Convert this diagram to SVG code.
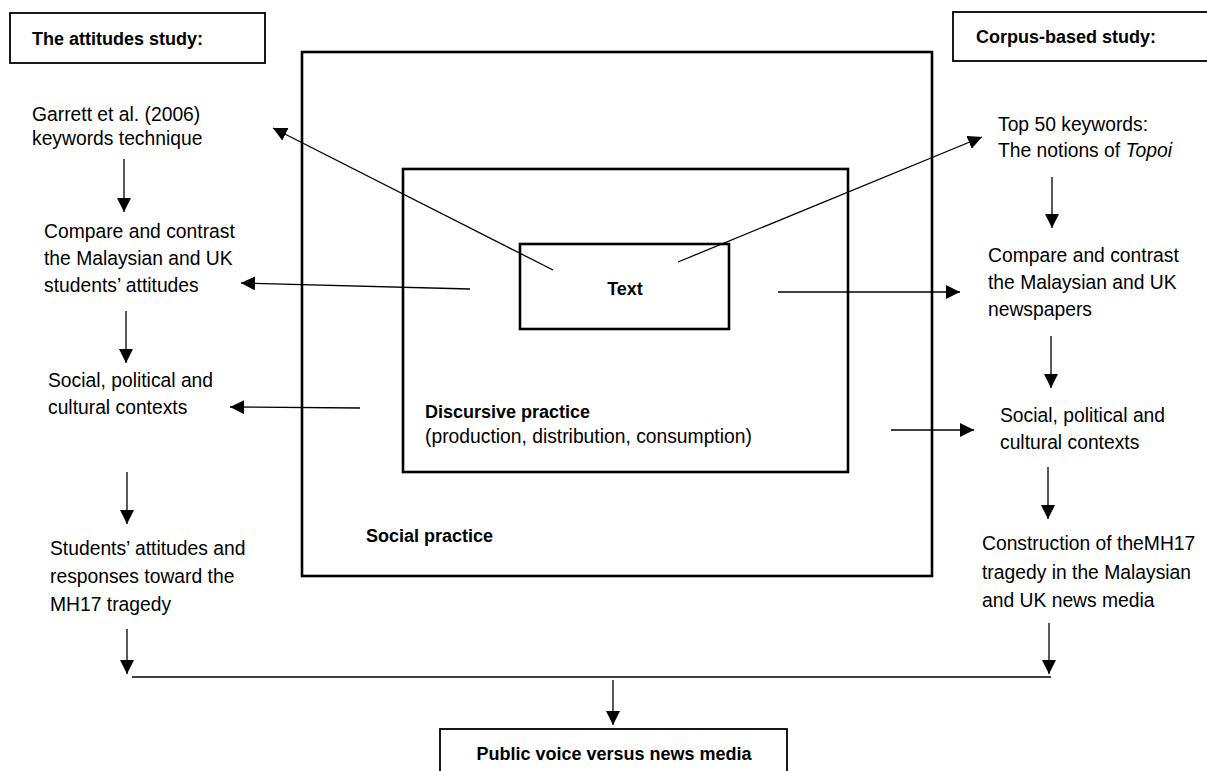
<svg xmlns="http://www.w3.org/2000/svg" width="1207" height="771" viewBox="0 0 1207 771">
<style>
text { font-family: "Liberation Sans", Arial, sans-serif; fill: #000; }
.t { font-size: 19.3px; }
.b { font-size: 18px; font-weight: bold; }
.box { fill: none; stroke: #000; stroke-width: 2.6; }
.tbox { fill: #fff; stroke: #000; stroke-width: 1.8; }
.c { fill: none; stroke: #000; stroke-width: 1.3; }
.a { marker-end: url(#ah); }
</style>
<defs>
<marker id="ah" markerUnits="userSpaceOnUse" markerWidth="15" markerHeight="15" refX="14" refY="7" orient="auto">
<path d="M0,0 L14,7 L0,14 Z" fill="#000"/>
</marker>
</defs>

<g id="social-practice">
<rect class="box" x="302" y="52" width="630" height="524"/>
<text class="b" x="366" y="542">Social practice</text>
</g>
<g id="discursive-practice">
<rect class="box" x="403" y="169" width="445" height="303"/>
<text class="b" x="425" y="418">Discursive practice</text>
<text class="t" x="425" y="443">(production, distribution, consumption)</text>
</g>
<g id="text-box">
<rect class="box" x="520" y="244" width="209" height="85"/>
<text class="b" x="625" y="295" text-anchor="middle">Text</text>
</g>

<g id="attitudes-title">
<rect class="tbox" x="10" y="13" width="255" height="50"/>
<text class="b" x="32" y="45">The attitudes study:</text>
</g>
<g id="corpus-title">
<rect class="tbox" x="953" y="12" width="260" height="49"/>
<text class="b" x="976" y="43">Corpus-based study:</text>
</g>

<g id="garrett">
<text class="t" x="32" y="121">Garrett et al. (2006)</text>
<text class="t" x="32" y="145">keywords technique</text>
</g>
<g id="compare-left">
<text class="t" x="44" y="238">Compare and contrast</text>
<text class="t" x="44" y="265">the Malaysian and UK</text>
<text class="t" x="44" y="292">students’ attitudes</text>
</g>
<g id="contexts-left">
<text class="t" x="48" y="387">Social, political and</text>
<text class="t" x="48" y="414">cultural contexts</text>
</g>
<g id="students-attitudes">
<text class="t" x="50" y="555">Students’ attitudes and</text>
<text class="t" x="50" y="583">responses toward the</text>
<text class="t" x="50" y="611">MH17 tragedy</text>
</g>

<g id="top50">
<text class="t" x="998" y="131">Top 50 keywords:</text>
<text class="t" x="998" y="157">The notions of <tspan font-style="italic">Topoi</tspan></text>
</g>
<g id="compare-right">
<text class="t" x="988" y="262">Compare and contrast</text>
<text class="t" x="988" y="289">the Malaysian and UK</text>
<text class="t" x="988" y="316">newspapers</text>
</g>
<g id="contexts-right">
<text class="t" x="1000" y="422">Social, political and</text>
<text class="t" x="1000" y="449">cultural contexts</text>
</g>
<g id="construction">
<text class="t" x="982" y="550">Construction of theMH17</text>
<text class="t" x="982" y="579">tragedy in the Malaysian</text>
<text class="t" x="982" y="607">and UK news media</text>
</g>

<g id="public-voice">
<rect class="tbox" x="440" y="729" width="347" height="60"/>
<text class="b" x="614" y="760" text-anchor="middle">Public voice versus news media</text>
</g>

<g id="connectors">
<line class="c a" x1="553" y1="270" x2="273" y2="128"/>
<line class="c a" x1="678" y1="262" x2="982" y2="137"/>
<line class="c a" x1="470" y1="289" x2="241" y2="283"/>
<line class="c a" x1="360" y1="408" x2="230" y2="407"/>
<line class="c a" x1="778" y1="292" x2="960" y2="292"/>
<line class="c a" x1="891" y1="430" x2="974" y2="430"/>

<line class="c a" x1="124" y1="159" x2="124" y2="212"/>
<line class="c a" x1="126" y1="311" x2="126" y2="363"/>
<line class="c a" x1="127" y1="472" x2="127" y2="524"/>
<line class="c a" x1="127" y1="629" x2="127" y2="674"/>

<line class="c a" x1="1052" y1="177" x2="1052" y2="228"/>
<line class="c a" x1="1051" y1="336" x2="1051" y2="388"/>
<line class="c a" x1="1048" y1="467" x2="1048" y2="519"/>
<line class="c a" x1="1049" y1="623" x2="1049" y2="674"/>

<line class="c" x1="132" y1="677" x2="1051" y2="677"/>
<line class="c a" x1="613" y1="680" x2="613" y2="725"/>
</g>
</svg>
